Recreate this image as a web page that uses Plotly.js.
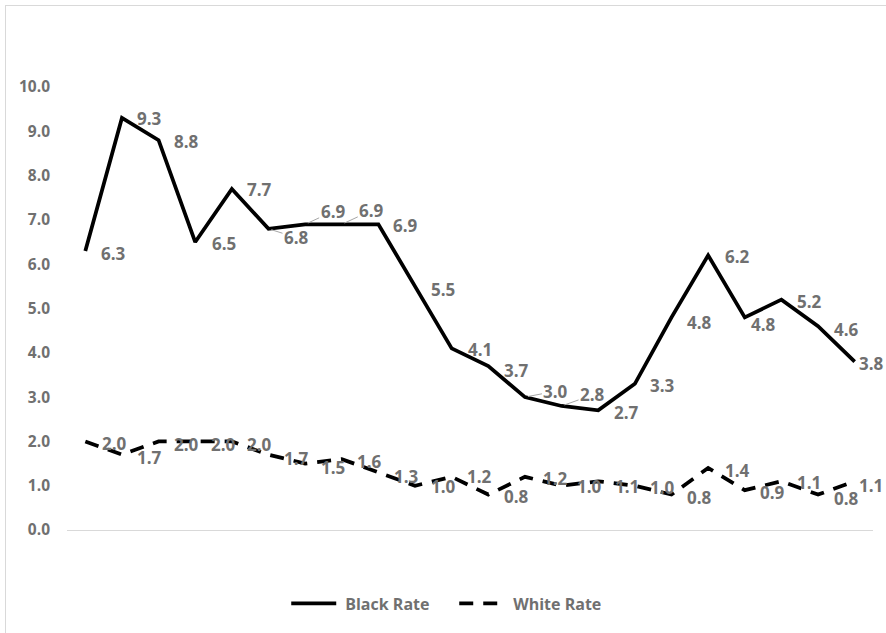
<!DOCTYPE html>
<html>
<head>
<meta charset="utf-8">
<script src="https://cdn.plot.ly/plotly-3.0.1.min.js"></script>
<style>
  html, body { margin: 0; padding: 0; background: #ffffff; }
  #wrap { position: relative; width: 886px; height: 633px; overflow: hidden; }
  #frame { position: absolute; left: 5px; top: 5px; width: 900px; height: 700px;
           border: 1.5px solid #d9d9d9; box-sizing: border-box; }
  #chart { position: absolute; left: 0; top: 0; width: 886px; height: 633px; }
</style>
</head>
<body>
<div id="wrap">
  <div id="frame"></div>
  <div id="chart"></div>
</div>
<script>
// ---- data ----
var periods = [1, 2, 3, 4, 5, 6, 7, 8, 9, 10, 11, 12, 13, 14, 15, 16, 17, 18, 19, 20, 21, 22];
var blackRate = [6.3, 9.3, 8.8, 6.5, 7.7, 6.8, 6.9, 6.9, 6.9, 5.5, 4.1, 3.7, 3.0, 2.8, 2.7, 3.3, 4.8, 6.2, 4.8, 5.2, 4.6, 3.8];
var whiteRate = [2.0, 1.7, 2.0, 2.0, 2.0, 1.7, 1.5, 1.6, 1.3, 1.0, 1.2, 0.8, 1.2, 1.0, 1.1, 1.0, 0.8, 1.4, 0.9, 1.1, 0.8, 1.1];
var seriesNames = ['Black Rate', 'White Rate'];

// ---- label placement (style: pixel offsets of label centre from its point) ----
var blackLabelDX = [28, 28, 28, 29, 28, 28, 28, 30, 27, 28, 28, 28, 31, 31, 28, 28, 28, 29, 19, 28, 28, 17];
var blackLabelDY = [3, 0, 1, 1, 1, 9, -13, -14, 1, 3, 1, 4, -6, -11, 2, 2, 5, 1, 7, 2, 3, 2];
var blackLeader  = [0, 0, 0, 0, 0, 1, 1, 1, 0, 0, 0, 0, 1, 1, 0, 0, 0, 0, 0, 0, 0, 0];
var whiteLabelDX = [29, 28, 28, 28, 28, 28, 28, 28, 28, 28, 28, 28, 31, 28, 29, 28, 28, 29, 28, 28, 28, 16];
var whiteLabelDY = [2, 3, 3, 3, 3, 4, 4, 2, 4, 1, 0, 2, 2, 1, 5, 2, 3, 3, 2, 1, 4, 4];

var FONT = '"Open Sans", "Noto Sans", "Liberation Sans", sans-serif';
var GREY = '#707070';

var traces = [
  {
    x: periods, y: blackRate, name: seriesNames[0], type: 'scatter', mode: 'lines',
    line: { color: '#000000', width: 3.75 }, hoverinfo: 'y'
  },
  {
    x: periods, y: whiteRate, name: seriesNames[1], type: 'scatter', mode: 'lines',
    line: { color: '#000000', width: 3.75, dash: '14px,10px' }, hoverinfo: 'y'
  }
];

var annotations = [];
function addLabels(xs, ys, dxs, dys, leaders) {
  for (var i = 0; i < xs.length; i++) {
    var lead = leaders && leaders[i];
    annotations.push({
      x: xs[i], y: ys[i], xref: 'x', yref: 'y',
      text: '<b>' + ys[i].toFixed(1) + '</b>',
      showarrow: true, arrowhead: 0, arrowwidth: 1, standoff: 3,
      arrowcolor: lead ? '#a6a6a6' : 'rgba(0,0,0,0)',
      ax: dxs[i], ay: dys[i],
      font: { family: FONT, size: 17, color: GREY }
    });
  }
}
addLabels(periods, blackRate, blackLabelDX, blackLabelDY, blackLeader);
addLabels(periods, whiteRate, whiteLabelDX, whiteLabelDY, null);

var layout = {
  width: 886, height: 633,
  margin: { l: 67, r: 13, t: 87, b: 101 },
  paper_bgcolor: 'rgba(0,0,0,0)', plot_bgcolor: 'rgba(0,0,0,0)',
  font: { family: FONT, color: GREY },
  showlegend: true,
  legend: {
    orientation: 'h', x: 0.272, xanchor: 'left', y: -0.166, yanchor: 'middle',
    font: { family: FONT, size: 16, color: GREY, weight: 'bold' },
    itemwidth: 49, entrywidth: 104, tracegroupgap: 0
  },
  xaxis: {
    range: [0.5, 22.5], showticklabels: false, ticks: '', showgrid: false, zeroline: false,
    showline: true, linecolor: '#d9d9d9', linewidth: 1, fixedrange: true
  },
  yaxis: {
    range: [0, 10], dtick: 1, tick0: 0, tickformat: '.1f', showgrid: false, zeroline: false,
    showline: false, ticks: '', ticklabelstandoff: 16,
    tickfont: { family: FONT, size: 15.5, color: GREY, weight: 'bold' }, fixedrange: true
  },
  annotations: annotations
};

Plotly.newPlot('chart', traces, layout, { displayModeBar: false, staticPlot: true }).then(function (gd) {
  // lengthen the legend line samples to match the wider reference swatches
  var paths = gd.querySelectorAll('.legend .legendlines path');
  for (var i = 0; i < paths.length; i++) {
    paths[i].setAttribute('d', 'M5,0h45');
  }
});
</script>
</body>
</html>
